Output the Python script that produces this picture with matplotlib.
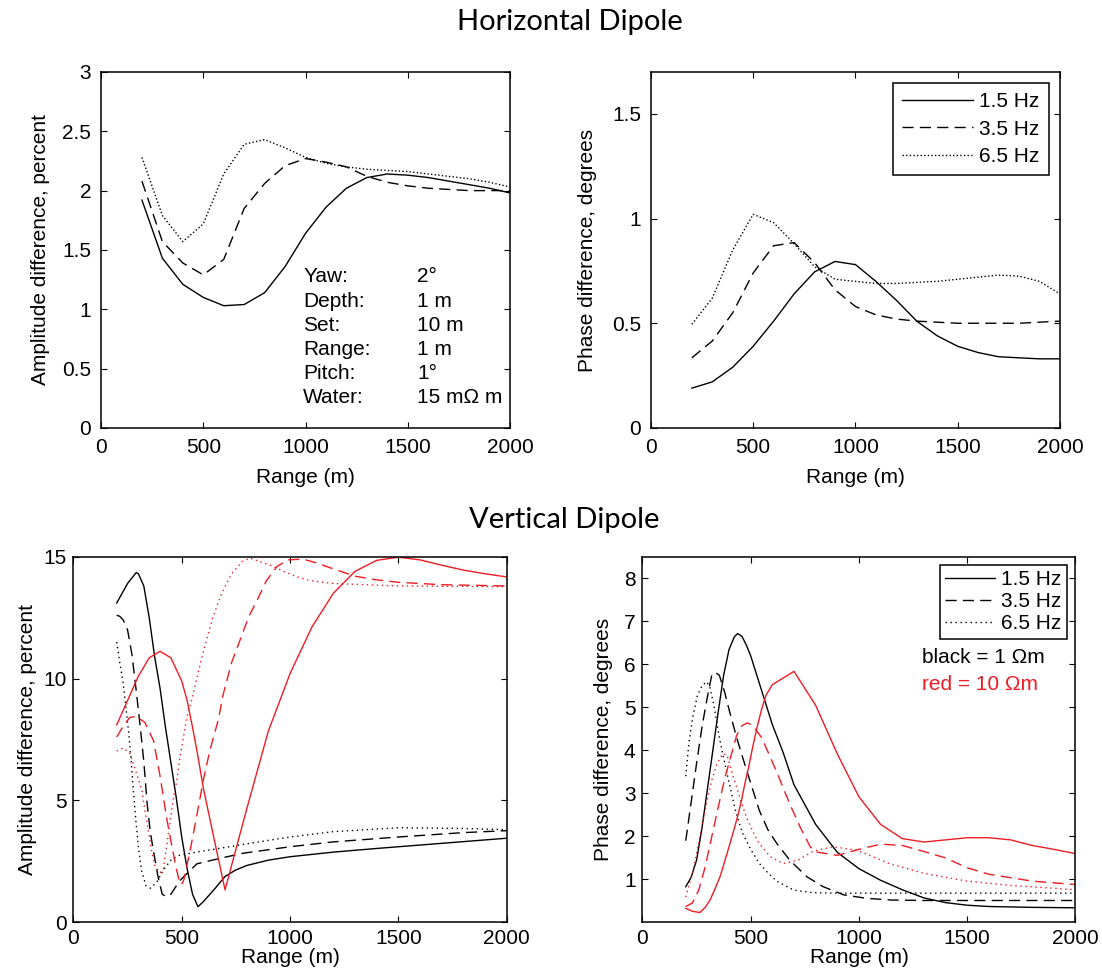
import numpy as np
import matplotlib as mpl
import matplotlib.pyplot as plt

mpl.rcParams['font.family'] = 'Liberation Sans'
mpl.rcParams['font.size'] = 15

# ---- horizontal dipole, 200..2000 m every 100 m
rng_h = np.arange(200, 2001, 100)
amp_h_15 = [1.92, 1.43, 1.21, 1.10, 1.03, 1.04, 1.14, 1.36, 1.64, 1.86,
            2.02, 2.11, 2.14, 2.13, 2.11, 2.08, 2.05, 2.02, 1.98]
amp_h_35 = [2.08, 1.57, 1.39, 1.29, 1.42, 1.85, 2.06, 2.21, 2.27, 2.24,
            2.20, 2.12, 2.07, 2.04, 2.02, 2.01, 2.00, 2.00, 2.00]
amp_h_65 = [2.28, 1.79, 1.57, 1.72, 2.14, 2.39, 2.43, 2.36, 2.28, 2.23,
            2.20, 2.18, 2.17, 2.16, 2.14, 2.12, 2.10, 2.07, 2.03]
ph_h_15 = [0.19, 0.22, 0.29, 0.39, 0.51, 0.64, 0.745, 0.795, 0.78, 0.70,
           0.61, 0.51, 0.44, 0.39, 0.36, 0.34, 0.335, 0.33, 0.33]
ph_h_35 = [0.335, 0.415, 0.55, 0.74, 0.87, 0.885, 0.79, 0.66, 0.58, 0.54,
           0.52, 0.51, 0.505, 0.50, 0.50, 0.50, 0.50, 0.505, 0.51]
ph_h_65 = [0.495, 0.62, 0.85, 1.02, 0.98, 0.88, 0.77, 0.71, 0.70, 0.69,
           0.69, 0.695, 0.70, 0.71, 0.72, 0.73, 0.725, 0.70, 0.64]

params = ['Yaw:', 'Depth:', 'Set:', 'Range:', 'Pitch:', 'Water:']
param_vals = ['2°', '1 m', '10 m', '1 m', '1°', '15 mΩ m']
freqs = ['1.5 Hz', '3.5 Hz', '6.5 Hz']

# ---- vertical dipole amplitude, 1 ohm-m (black)
x_va_k15 = [200, 250, 290, 300, 325, 350, 375, 400, 425, 450, 475, 500, 525, 550,
            575, 600, 650, 700, 750, 800, 900, 1000, 1200, 1400, 1600, 1800, 2000]
y_va_k15 = [13.1, 13.9, 14.35, 14.3, 13.8, 12.5, 10.9, 9.6, 8.0, 6.55, 5.1, 3.5, 2.2,
            1.15, 0.64, 0.85, 1.35, 1.88, 2.15, 2.33, 2.55, 2.69, 2.88, 3.03, 3.17, 3.31, 3.45]
x_va_k35 = [200, 215, 230, 250, 270, 290, 310, 325, 340, 355, 370, 390, 410, 430,
            450, 490, 570, 680, 780, 1000, 1200, 1500, 1800, 2000]
y_va_k35 = [12.6, 12.55, 12.4, 12.0, 11.0, 9.5, 7.9, 6.6, 4.9, 3.7, 2.9, 1.9, 1.15, 1.05,
            1.15, 1.7, 2.4, 2.63, 2.83, 3.1, 3.3, 3.5, 3.68, 3.76]
x_va_k65 = [200, 215, 230, 245, 255, 265, 277, 289, 300, 315, 335, 356, 385, 415, 455,
            490, 570, 630, 720, 800, 1000, 1200, 1500, 1800, 2000]
y_va_k65 = [11.5, 10.6, 9.8, 8.6, 7.8, 6.8, 5.4, 4.1, 3.1, 2.1, 1.5, 1.4, 1.65, 2.15, 2.6,
            2.75, 2.88, 2.97, 3.1, 3.22, 3.5, 3.72, 3.88, 3.85, 3.8]
# ---- vertical dipole amplitude, 10 ohm-m (red)
x_va_r15 = [200, 250, 300, 350, 400, 450, 500, 525, 550, 575, 600, 650, 700, 800, 900,
            1000, 1100, 1200, 1300, 1400, 1500, 1600, 1700, 1800, 1900, 2000]
y_va_r15 = [8.1, 9.1, 10.1, 10.85, 11.12, 10.85, 9.9, 9.1, 8.0, 6.8, 5.5, 3.4, 1.33, 4.65,
            7.85, 10.2, 12.1, 13.5, 14.4, 14.85, 14.98, 14.87, 14.65, 14.45, 14.3, 14.17]
x_va_r35 = [200, 230, 260, 290, 330, 370, 400, 430, 455, 475, 490, 500, 510, 540, 570,
            600, 630, 670, 690, 730, 770, 810, 850, 890, 940, 990, 1060, 1120, 1200,
            1300, 1400, 1500, 1700, 2000]
y_va_r35 = [7.6, 8.05, 8.4, 8.45, 8.2, 7.45, 6.0, 4.3, 3.1, 2.2, 1.65, 1.55, 1.75, 3.0,
            4.4, 5.85, 7.05, 8.35, 9.3, 10.65, 11.6, 12.55, 13.25, 14.0, 14.6, 14.87,
            14.9, 14.75, 14.5, 14.2, 14.05, 13.95, 13.85, 13.8]
x_va_r65 = [200, 230, 260, 290, 315, 330, 345, 360, 377, 400, 415, 430, 445, 460, 475,
            490, 505, 525, 550, 585, 615, 645, 685, 730, 780, 815, 860, 910, 970, 1030,
            1090, 1200, 1500, 2000]
y_va_r65 = [7.03, 7.15, 6.95, 6.15, 5.45, 4.6, 3.8, 2.97, 2.3, 2.03, 2.2, 3.1, 4.05, 5.0,
            5.7, 6.65, 7.45, 8.45, 9.26, 10.6, 11.6, 12.55, 13.5, 14.3, 14.8, 14.94, 14.8,
            14.65, 14.4, 14.18, 14.02, 13.9, 13.8, 13.77]

# ---- vertical dipole phase
x_vp_k15 = [200, 225, 250, 275, 300, 325, 350, 375, 400, 425, 440, 460, 480, 500, 550,
            600, 650, 700, 800, 900, 1000, 1100, 1200, 1300, 1400, 1500, 1600, 1800, 2000]
y_vp_k15 = [0.83, 1.05, 1.45, 2.2, 3.1, 4.0, 4.9, 5.75, 6.35, 6.65, 6.72, 6.65, 6.45, 6.2,
            5.4, 4.6, 3.95, 3.2, 2.28, 1.63, 1.25, 0.98, 0.76, 0.57, 0.46, 0.40, 0.37,
            0.35, 0.34]
x_vp_k35 = [200, 225, 250, 275, 300, 320, 335, 355, 380, 400, 435, 465, 490, 540, 580,
            620, 680, 760, 835, 930, 1035, 1150, 1300, 1500, 2000]
y_vp_k35 = [1.9, 2.8, 3.7, 4.55, 5.25, 5.75, 5.82, 5.75, 5.35, 4.95, 4.3, 3.8, 3.4, 2.6,
            2.15, 1.84, 1.45, 1.06, 0.83, 0.64, 0.56, 0.52, 0.51, 0.51, 0.51]
x_vp_k65 = [200, 215, 235, 255, 275, 295, 310, 330, 355, 380, 400, 430, 460, 500, 540,
            580, 620, 700, 790, 900, 1200, 1500, 2000]
y_vp_k65 = [3.4, 4.2, 4.85, 5.3, 5.5, 5.6, 5.5, 5.05, 4.3, 3.7, 3.25, 2.6, 2.1, 1.7, 1.37,
            1.15, 0.96, 0.75, 0.69, 0.68, 0.68, 0.68, 0.68]
x_vp_r15 = [200, 230, 265, 290, 312, 335, 358, 380, 404, 425, 443, 460, 473, 490, 510,
            530, 550, 570, 600, 700, 800, 900, 1000, 1100, 1200, 1300, 1400, 1500, 1600,
            1700, 1800, 1900, 2000]
y_vp_r15 = [0.33, 0.26, 0.23, 0.35, 0.52, 0.78, 1.06, 1.42, 1.83, 2.2, 2.53, 2.9, 3.23,
            3.6, 4.1, 4.55, 4.95, 5.28, 5.53, 5.84, 5.05, 3.92, 2.92, 2.28, 1.95, 1.87,
            1.92, 1.97, 1.97, 1.92, 1.79, 1.7, 1.6]
x_vp_r35 = [200, 230, 260, 290, 320, 350, 380, 405, 435, 460, 485, 510, 550, 590, 620,
            680, 730, 775, 800, 900, 1000, 1100, 1200, 1300, 1400, 1500, 1600, 1700,
            1800, 1900, 2000]
y_vp_r35 = [0.37, 0.45, 0.75, 1.3, 1.99, 2.68, 3.35, 3.8, 4.35, 4.58, 4.64, 4.58, 4.3,
            3.85, 3.5, 2.76, 2.2, 1.76, 1.64, 1.56, 1.7, 1.82, 1.79, 1.65, 1.5, 1.27,
            1.12, 1.04, 0.96, 0.92, 0.88]
x_vp_r65 = [200, 235, 265, 295, 320, 345, 370, 390, 420, 450, 480, 530, 590, 650, 720,
            790, 880, 990, 1140, 1300, 1500, 1700, 2000]
y_vp_r65 = [0.59, 1.22, 1.99, 2.76, 3.3, 3.7, 3.92, 3.9, 3.38, 2.9, 2.45, 1.9, 1.53,
            1.37, 1.45, 1.66, 1.76, 1.68, 1.37, 1.14, 0.96, 0.86, 0.76]

RED = '#ee1c25'
DASH = (0, (8, 4.5))
DOT = (0, (1, 1.6))
DOT_R = (0, (1, 2.6))


def style(ax, ylim, yticks, pad=7):
    ax.set_xlim(0, 2000)
    ax.set_ylim(*ylim)
    ax.set_xticks([0, 500, 1000, 1500, 2000])
    ax.set_yticks(yticks)
    ax.set_yticklabels(['%g' % t for t in yticks])
    ax.tick_params(direction='in', length=4, width=0.8, top=True, right=True, pad=pad)
    for s in ax.spines.values():
        s.set_linewidth(1.1)


fig = plt.figure(figsize=(11.02, 9.68), dpi=100)

# top left
ax1 = fig.add_axes([0.0917, 0.5579, 0.3711, 0.3678])
ax1.plot(rng_h, amp_h_15, '-k', lw=1)
ax1.plot(rng_h, amp_h_35, color='k', ls=DASH, lw=1)
ax1.plot(rng_h, amp_h_65, color='k', ls=DOT, lw=1)
style(ax1, (0, 3), [0, 0.5, 1, 1.5, 2, 2.5, 3])
ax1.set_xlabel('Range (m)', va='center')
ax1.xaxis.set_label_coords(0.5, -0.14)
ax1.set_ylabel('Amplitude difference, percent', va='center')
ax1.yaxis.set_label_coords(-0.149, 0.5)
for i in range(len(params)):
    yy = 1.272 - i * 0.2035
    ax1.text(988, yy, params[i], va='center', ha='left')
    ax1.text(1545, yy, param_vals[i], va='center', ha='left')

# top right
ax2 = fig.add_axes([0.5907, 0.5579, 0.3711, 0.3678])
ax2.plot(rng_h, ph_h_15, '-k', lw=1, label=freqs[0])
ax2.plot(rng_h, ph_h_35, color='k', ls=DASH, lw=1, label=freqs[1])
ax2.plot(rng_h, ph_h_65, color='k', ls=DOT, lw=1, label=freqs[2])
style(ax2, (0, 1.7), [0, 0.5, 1, 1.5])
ax2.set_xlabel('Range (m)', va='center')
ax2.xaxis.set_label_coords(0.5, -0.14)
ax2.set_ylabel('Phase difference, degrees', va='center')
ax2.yaxis.set_label_coords(-0.154, 0.5)
leg = ax2.legend(loc='upper right', bbox_to_anchor=(0.973, 0.969), borderaxespad=0,
                 fancybox=False, edgecolor='k', framealpha=1, handlelength=3.4,
                 handletextpad=0.3, labelspacing=0.4, borderpad=0.45)
leg.get_frame().set_linewidth(1.1)

# bottom left
ax3 = fig.add_axes([0.0666, 0.0472, 0.3932, 0.3777])
ax3.plot(x_va_k15, y_va_k15, '-k', lw=1)
ax3.plot(x_va_k35, y_va_k35, color='k', ls=DASH, lw=1)
ax3.plot(x_va_k65, y_va_k65, color='k', ls=DOT_R, lw=1)
ax3.plot(x_va_r15, y_va_r15, '-', color=RED, lw=1)
ax3.plot(x_va_r35, y_va_r35, color=RED, ls=DASH, lw=1)
ax3.plot(x_va_r65, y_va_r65, color=RED, ls=DOT_R, lw=1)
style(ax3, (0, 15), [0, 5, 10, 15], pad=5)
ax3.set_xlabel('Range (m)', va='center')
ax3.xaxis.set_label_coords(0.5, -0.097)
ax3.set_ylabel('Amplitude difference, percent', va='center')
ax3.yaxis.set_label_coords(-0.105, 0.5)

# bottom right
ax4 = fig.add_axes([0.5830, 0.0471, 0.3929, 0.3775])
ax4.plot(x_vp_k15, y_vp_k15, '-k', lw=1, label=freqs[0])
ax4.plot(x_vp_k35, y_vp_k35, color='k', ls=DASH, lw=1, label=freqs[1])
ax4.plot(x_vp_k65, y_vp_k65, color='k', ls=DOT_R, lw=1, label=freqs[2])
ax4.plot(x_vp_r15, y_vp_r15, '-', color=RED, lw=1)
ax4.plot(x_vp_r35, y_vp_r35, color=RED, ls=DASH, lw=1)
ax4.plot(x_vp_r65, y_vp_r65, color=RED, ls=DOT_R, lw=1)
style(ax4, (0, 8.5), [1, 2, 3, 4, 5, 6, 7, 8], pad=5)
ax4.set_xlabel('Range (m)', va='center')
ax4.xaxis.set_label_coords(0.5, -0.097)
ax4.set_ylabel('Phase difference, degrees', va='center')
ax4.yaxis.set_label_coords(-0.09, 0.5)
leg2 = ax4.legend(loc='upper right', bbox_to_anchor=(0.980, 0.978), borderaxespad=0,
                  fancybox=False, edgecolor='k', framealpha=1, handlelength=2.4,
                  handletextpad=0.3, labelspacing=0.15, borderpad=0.25)
leg2.get_frame().set_linewidth(1.1)
ax4.text(1291, 6.17, 'black = 1 Ωm', va='center', ha='left', color='k')
ax4.text(1291, 5.53, 'red = 10 Ωm', va='center', ha='left', color=RED)

fig.text(0.517, 1 - 22 / 968, 'Horizontal Dipole', ha='center', va='center',
         fontsize=21, family='Lato')
fig.text(0.512, 1 - 520 / 968, 'Vertical Dipole', ha='center', va='center',
         fontsize=21, family='Lato')

plt.savefig('out.png', dpi=100)
